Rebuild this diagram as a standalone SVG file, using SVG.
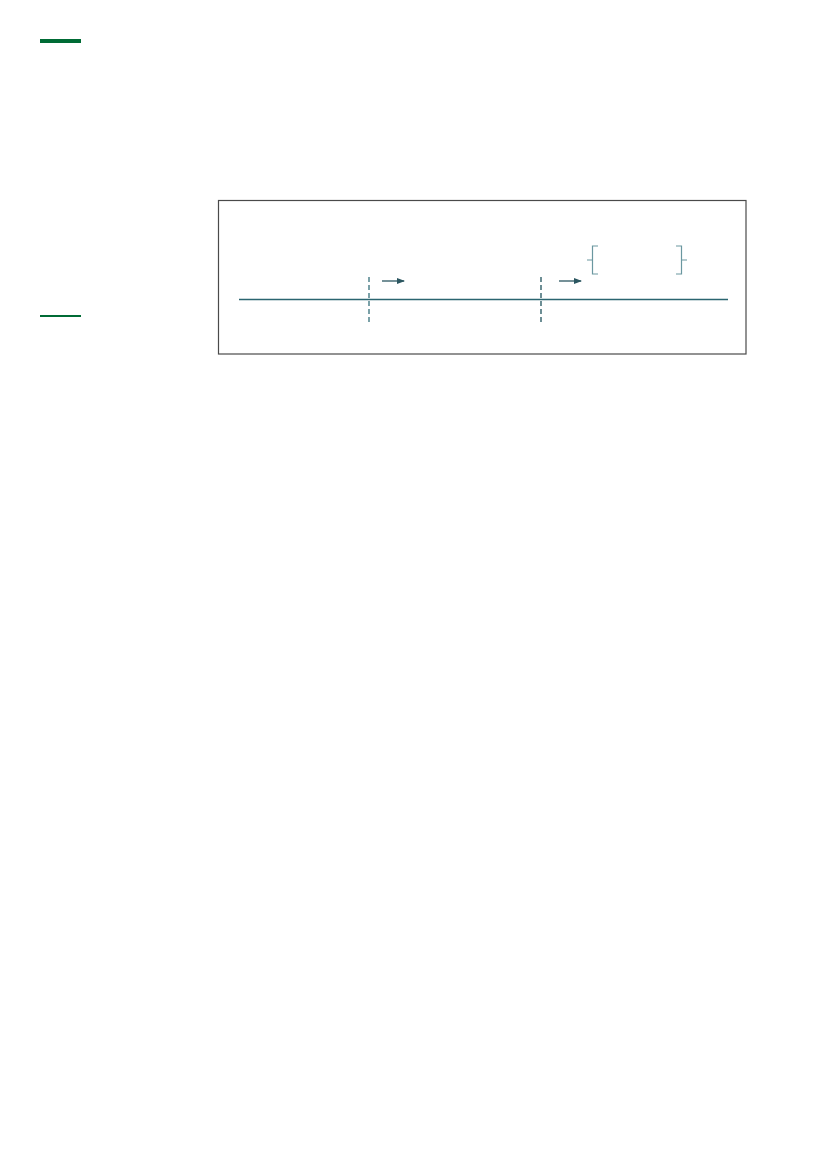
<svg xmlns="http://www.w3.org/2000/svg" width="827" height="1169" viewBox="0 0 827 1169">
<style>
.axis{stroke:#2b6570;stroke-width:1.6;fill:none}
.dash{stroke:#5a8a93;stroke-width:1.6;stroke-dasharray:5,3;fill:none}
.dash2{stroke:#2f5f68;stroke-width:1.4;stroke-dasharray:5,3;fill:none}
.arr{stroke:#2b5660;stroke-width:1.3;fill:none;marker-end:url(#ah)}
.brace{stroke:#6a97a0;stroke-width:1.2;fill:none}
</style>
<defs>
<marker id="ah" markerWidth="8" markerHeight="6" refX="7" refY="3" orient="auto" markerUnits="userSpaceOnUse">
<path d="M0,0 L8,3 L0,6 Z" fill="#2b5660"/>
</marker>
</defs>
<rect width="827" height="1169" fill="#ffffff"/>
<g id="header-bar"><rect x="40" y="39" width="41" height="4" fill="#006b35"/></g>
<g id="side-rule"><rect x="40" y="315" width="41" height="2" fill="#006b35"/></g>
<g id="frame"><rect x="218.5" y="200.5" width="527.5" height="153.5" fill="none" stroke="#4a4a4a" stroke-width="1.2"/></g>
<g id="connectors">
<line class="axis" x1="239" y1="299.5" x2="728" y2="299.5"/>
<line class="dash" x1="369" y1="277" x2="369" y2="325"/>
<line class="dash2" x1="541" y1="277" x2="541" y2="325"/>
<line class="arr" x1="382" y1="281" x2="404" y2="281"/>
<line class="arr" x1="559" y1="281" x2="581" y2="281"/>
</g>
<g id="brace-left"><path class="brace" d="M598,246 H592.5 V260 H587 M592.5,260 V274 H598"/></g>
<g id="brace-right"><path class="brace" d="M676,246 H681.5 V260 H687 M681.5,260 V274 H676"/></g>
</svg>
